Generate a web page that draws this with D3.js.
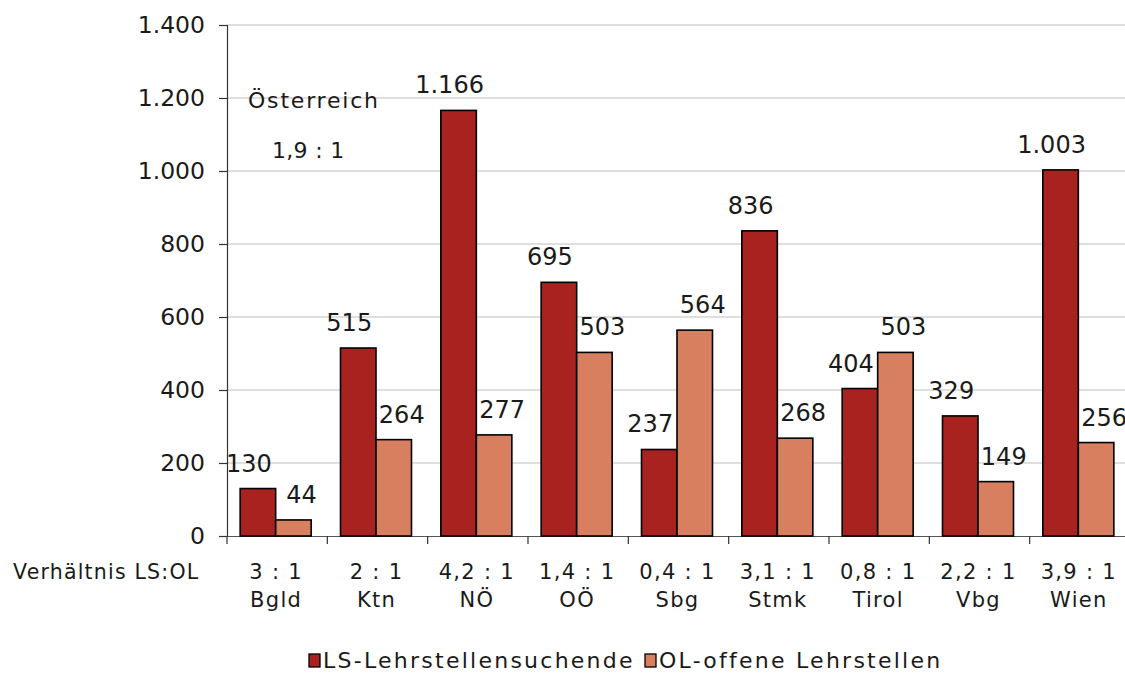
<!DOCTYPE html>
<html>
<head>
<meta charset="utf-8">
<script src="https://cdn.jsdelivr.net/npm/d3@7"></script>
<style>
  body { margin: 0; background: #fff; }
  svg { font-family: "DejaVu Sans", Verdana, sans-serif; }
</style>
</head>
<body>
<div id="chart"></div>
<script>
const regions = ['Bgld', 'Ktn', 'NÖ', 'OÖ', 'Sbg', 'Stmk', 'Tirol', 'Vbg', 'Wien'];
const suchende = [130, 515, 1166, 695, 237, 836, 404, 329, 1003];
const offene = [44, 264, 277, 503, 564, 268, 503, 149, 256];
const ratios = ['3 : 1', '2 : 1', '4,2 : 1', '1,4 : 1', '0,4 : 1', '3,1 : 1', '0,8 : 1', '2,2 : 1', '3,9 : 1'];
const yTicks = [0, 200, 400, 600, 800, 1000, 1200, 1400];
const seriesNames = ['LS-Lehrstellensuchende', 'OL-offene Lehrstellen'];
const colors = ['#a8231f', '#d77f5f'];

const W = 1125, H = 673;
const svg = d3.select('#chart').append('svg').attr('width', W).attr('height', H);

const x = d3.scaleBand().domain(regions).range([227, 1130]);
const y = d3.scaleLinear().domain([0, 1400]).range([536, 25]);
const fmt = d3.formatLocale({ decimal: ',', thousands: '.', grouping: [3], currency: ['', '€'] }).format(',');

// Gitterlinien
svg.append('g').selectAll('line').data(yTicks.slice(1)).enter().append('line')
  .attr('x1', 227).attr('x2', W).attr('y1', d => y(d)).attr('y2', d => y(d))
  .attr('stroke', '#c0c0c0').attr('stroke-width', 1.2);

// Y-Achse
const yAxis = svg.append('g').attr('transform', 'translate(227,0)')
  .call(d3.axisLeft(y).tickValues(yTicks).tickSize(8).tickPadding(14).tickFormat(fmt));
yAxis.select('.domain').attr('stroke', '#333').attr('stroke-width', 1.2);
yAxis.selectAll('line').attr('stroke', '#333').attr('stroke-width', 1.2);
yAxis.selectAll('text').attr('font-size', 23.5).attr('fill', '#1a1a1a').attr('font-family', '"DejaVu Sans", sans-serif');

// X-Achse
const xAxis = svg.append('g').attr('transform', `translate(0,${y(0)})`)
  .call(d3.axisBottom(x).tickSize(0).tickFormat(''));
xAxis.select('.domain').attr('stroke', '#555').attr('stroke-width', 1.2);
svg.append('g').selectAll('line').data(regions).enter().append('line')
  .attr('x1', d => x(d)).attr('x2', d => x(d))
  .attr('y1', y(0)).attr('y2', y(0) + 8)
  .attr('stroke', '#333').attr('stroke-width', 1.2);

// Balken
const barW = 35.5;
const groups = regions.map((r, i) => ({ r, vals: [suchende[i], offene[i]] }));
const g = svg.append('g').selectAll('g').data(groups).enter().append('g')
  .attr('transform', d => `translate(${x(d.r) + x.bandwidth() / 2 - barW - 1.5},0)`);
g.selectAll('rect').data(d => d.vals).enter().append('rect')
  .attr('x', (d, i) => i * barW)
  .attr('y', d => y(d))
  .attr('width', barW)
  .attr('height', d => y(0) - y(d))
  .attr('fill', (d, i) => colors[i])
  .attr('stroke', '#000').attr('stroke-width', 1.6);
g.selectAll('text').data(d => d.vals).enter().append('text')
  .attr('x', (d, i) => i * barW + barW / 2 + (i === 0 ? -9 : 8))
  .attr('y', d => y(d) - 17)
  .attr('text-anchor', 'middle')
  .attr('font-size', 24).attr('fill', '#1a1a1a')
  .text(d => fmt(d));

// Verhältnis + Kategorien
svg.append('text').attr('x', 13).attr('y', 579).attr('font-size', 20.5)
  .attr('letter-spacing', 1.2).attr('fill', '#1a1a1a').text('Verhältnis LS:OL');
svg.append('g').selectAll('text').data(ratios).enter().append('text')
  .attr('x', (d, i) => x(regions[i]) + x.bandwidth() / 2 - 1)
  .attr('y', 579).attr('text-anchor', 'middle').attr('font-size', 21)
  .attr('letter-spacing', 1.3).attr('fill', '#1a1a1a').text(d => d);
svg.append('g').selectAll('text').data(regions).enter().append('text')
  .attr('x', d => x(d) + x.bandwidth() / 2 - 1)
  .attr('y', 607).attr('text-anchor', 'middle').attr('font-size', 21)
  .attr('letter-spacing', 1.3).attr('fill', '#1a1a1a').text(d => d);

// Österreich
svg.append('text').attr('x', 248).attr('y', 108).attr('font-size', 22)
  .attr('letter-spacing', 1.8).attr('fill', '#1a1a1a').text('Österreich');
svg.append('text').attr('x', 272).attr('y', 158).attr('font-size', 22)
  .attr('letter-spacing', 0.3).attr('fill', '#1a1a1a').text('1,9 : 1');

// Legende
const legX = [309, 645];
const leg = svg.append('g').selectAll('g').data(seriesNames).enter().append('g')
  .attr('transform', (d, i) => `translate(${legX[i]},0)`);
leg.append('rect').attr('x', 0).attr('y', 654).attr('width', 11).attr('height', 13)
  .attr('fill', (d, i) => colors[i]).attr('stroke', '#000').attr('stroke-width', 1.3);
leg.append('text').attr('x', 14).attr('y', 668).attr('font-size', 22)
  .attr('letter-spacing', 2.25).attr('fill', '#1a1a1a').text(d => d);
</script>
</body>
</html>
